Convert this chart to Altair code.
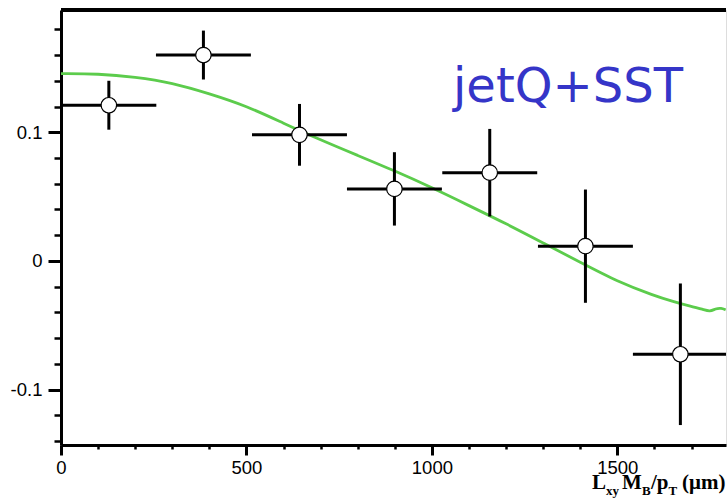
import altair as alt
import pandas as pd

# ---- data ----
pt_x = [129, 384, 643, 899, 1156, 1414, 1670]
pt_y = [0.121, 0.160, 0.098, 0.056, 0.0686, 0.0115, -0.0725]
pt_yerr = [0.019, 0.019, 0.024, 0.0285, 0.034, 0.044, 0.055]
pt_xerr = [128, 128, 128, 128, 128, 128, 128]

curve_x = [0, 100, 200, 300, 400, 500, 600, 700, 800, 900, 1000, 1100, 1200,
           1300, 1400, 1500, 1600, 1650, 1700, 1730, 1750, 1765, 1780, 1792]
curve_y = [0.1455, 0.1455, 0.143, 0.1385, 0.130, 0.1205, 0.107, 0.094, 0.082,
           0.070, 0.057, 0.043, 0.029, 0.014, -0.001, -0.016, -0.027, -0.0315,
           -0.0355, -0.0375, -0.0395, -0.037, -0.0365, -0.038]

x_major = [0, 500, 1000, 1500]
x_minor = list(range(0, 1800, 100))
y_major = [-0.1, 0.0, 0.1]
y_minor = [-0.14, -0.12, -0.1, -0.08, -0.06, -0.04, -0.02, 0.0, 0.02, 0.04,
           0.06, 0.08, 0.1, 0.12, 0.14, 0.16, 0.18]

W, H = 665, 435
XDOM = [0, 1793]
YDOM = [-0.143, 0.195]

pts = pd.DataFrame({"x": pt_x, "y": pt_y})
pts["xlo"] = [a - b for a, b in zip(pt_x, pt_xerr)]
pts["xhi"] = [a + b for a, b in zip(pt_x, pt_xerr)]
pts["ylo"] = [a - b for a, b in zip(pt_y, pt_yerr)]
pts["yhi"] = [a + b for a, b in zip(pt_y, pt_yerr)]
curve = pd.DataFrame({"x": curve_x, "y": curve_y})

xs = alt.Scale(domain=XDOM, nice=False, zero=False)
ys = alt.Scale(domain=YDOM, nice=False, zero=False)

LABEL_FONT = "Liberation Sans"

x_axis_major = alt.Axis(values=x_major, format="d", orient="bottom", tickSize=10,
                        tickWidth=3, tickColor="black", domainWidth=3,
                        domainColor="black", labelFont=LABEL_FONT, labelFontSize=18.5,
                        labelColor="black", labelPadding=3, grid=False, title=None,
                        labelFlush=False)
y_axis_major = alt.Axis(values=y_major, orient="left", tickSize=13, tickWidth=3,
                        tickColor="black", domainWidth=3, domainColor="black",
                        labelFont=LABEL_FONT, labelFontSize=18.5, labelColor="black",
                        labelPadding=6, grid=False, title=None,
                        labelExpr="datum.value == 0 ? '0' : replace(datum.label, '\u2212', '-')")
x_axis_minor = alt.Axis(values=x_minor, orient="bottom", tickSize=4, tickWidth=2.5,
                        tickColor="black", domain=False, labels=False, grid=False,
                        title=None)
y_axis_minor = alt.Axis(values=y_minor, orient="left", tickSize=7, tickWidth=2.5,
                        tickColor="black", domain=False, labels=False, grid=False,
                        title=None)

minor = alt.Chart(curve).mark_line(opacity=0).encode(
    x=alt.X("x:Q", scale=xs, axis=x_axis_minor),
    y=alt.Y("y:Q", scale=ys, axis=y_axis_minor),
)

line = alt.Chart(curve).mark_line(color="#5ccc4c", strokeWidth=2.8, clip=True,
                                  interpolate="basis").encode(
    x=alt.X("x:Q", scale=xs, axis=x_axis_major),
    y=alt.Y("y:Q", scale=ys, axis=y_axis_major),
)

xbars = alt.Chart(pts).mark_rule(color="black", strokeWidth=3, clip=True).encode(
    x=alt.X("xlo:Q", scale=xs, axis=None),
    x2="xhi:Q",
    y=alt.Y("y:Q", scale=ys, axis=None),
)
ybars = alt.Chart(pts).mark_rule(color="black", strokeWidth=3, clip=True).encode(
    x=alt.X("x:Q", scale=xs, axis=None),
    y=alt.Y("ylo:Q", scale=ys, axis=None),
    y2="yhi:Q",
)
dots = alt.Chart(pts).mark_point(shape="circle", filled=True, fill="white",
                                 stroke="black", strokeWidth=1.2, size=240,
                                 opacity=1).encode(
    x=alt.X("x:Q", scale=xs, axis=None),
    y=alt.Y("y:Q", scale=ys, axis=None),
)

topline = alt.Chart(curve).mark_rule(color="black", strokeWidth=3).encode(
    x=alt.value(0), x2=alt.value(W), y=alt.value(0)
)

label = alt.Chart(pd.DataFrame({"t": ["jetQ+SST"]})).mark_text(
    font="DejaVu Sans", fontSize=48, color="#3535c8",
    align="center", baseline="alphabetic"
).encode(text="t:N", x=alt.value(507), y=alt.value(92))

# x-axis title built from pieces (subscripts)
pieces = [
    ("L", 531, 479, 21), ("xy", 545, 485, 13), ("M", 561, 479, 21),
    ("B", 581, 485, 13), ("/p", 590, 479, 21), ("T", 607.5, 485, 13),
    ("(\u03bcm)", 621, 479, 21),
]
title_layers = []
for t, px, py, fs in pieces:
    title_layers.append(
        alt.Chart(pd.DataFrame({"t": [t]})).mark_text(
            font="Liberation Serif", fontWeight="bold", fontSize=fs, color="black",
            align="left", baseline="alphabetic"
        ).encode(text="t:N", x=alt.value(px), y=alt.value(py))
    )

chart = alt.layer(minor, line, xbars, ybars, dots, topline, label, *title_layers).resolve_axis(
    x="independent", y="independent"
).properties(
    width=W, height=H,
    autosize=alt.AutoSizeParams(type="none"),
    padding={"left": 61, "top": 10, "right": 1, "bottom": 53},
).configure_view(stroke="#555555", strokeWidth=1.5).configure(background="white")

chart.save("out.html", embed_options={"renderer": "svg", "actions": False})
